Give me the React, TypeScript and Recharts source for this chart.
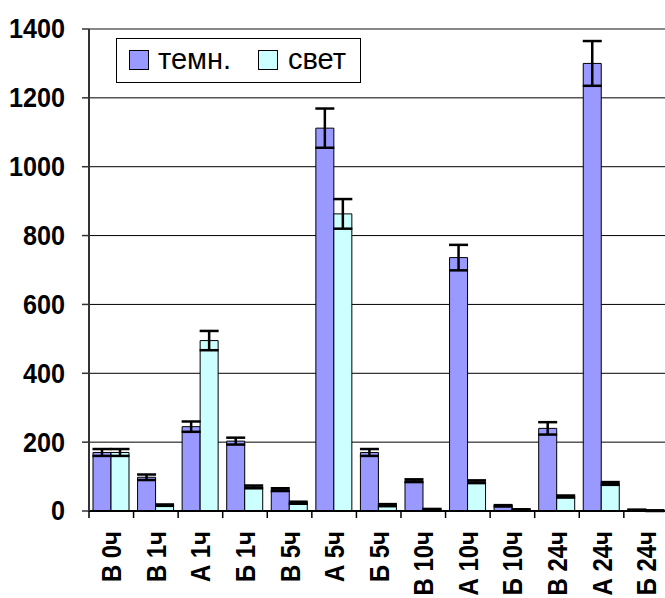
import React from 'react';
import {
  BarChart,
  Bar,
  XAxis,
  YAxis,
  CartesianGrid,
  ErrorBar,
  Legend,
  ReferenceLine,
} from 'recharts';

const categories = ['В 0ч', 'В 1ч', 'А 1ч', 'Б 1ч', 'В 5ч', 'А 5ч', 'Б 5ч', 'В 10ч', 'А 10ч', 'Б 10ч', 'В 24ч', 'А 24ч', 'Б 24ч'];
const darkValues = [170, 98, 245, 203, 62, 1112, 170, 88, 736, 15, 240, 1300, 3];
const darkErrors = [10, 8, 15, 10, 4, 57, 10, 4, 37, 2, 18, 65, 1];
const lightValues = [170, 17, 495, 70, 24, 863, 17, 5, 85, 4, 42, 80, 1];
const lightErrors = [10, 2, 28, 4, 3, 43, 3, 1, 4, 1, 3, 4, 1];
const yTicks = [0, 200, 400, 600, 800, 1000, 1200, 1400];
const seriesNames = ['темн.', 'свет'];

const data = categories.map((name, i) => ({
  name,
  dark: darkValues[i],
  darkErr: darkErrors[i],
  light: lightValues[i],
  lightErr: lightErrors[i],
}));

const CHART_W = 680;
const CHART_H = 598;
const Y_AXIS_W = 89;
const MARGIN = { top: 29, right: 11.6, bottom: 0, left: 0 };
const PLOT_W = CHART_W - Y_AXIS_W - MARGIN.left - MARGIN.right;
const BAND = PLOT_W / categories.length;
const FONT = '"Liberation Sans", Arial, sans-serif';
const SQUEEZE = 0.9;

// Bold value labels, slightly condensed along the text direction.
const ValueTick = (props: any) => {
  const { x, y, payload } = props;
  return (
    <text
      transform={`translate(${x},${y}) scale(${SQUEEZE},1)`}
      textAnchor="end"
      dominantBaseline="central"
      fontFamily={FONT}
      fontWeight="bold"
      fontSize={28}
      fill="#000"
    >
      {payload.value}
    </text>
  );
};

// Category label rotated to read upward, with a tick mark on the left edge of its band.
const CategoryTick = (props: any) => {
  const { x, y, payload, index } = props;
  const left = x - BAND / 2;
  return (
    <g>
      <line x1={left} y1={y} x2={left} y2={y + 7} stroke="#000" strokeWidth={1.5} />
      {index === categories.length - 1 && (
        <line x1={x + BAND / 2} y1={y} x2={x + BAND / 2} y2={y + 7} stroke="#000" strokeWidth={1.5} />
      )}
      <text
        transform={`translate(${x + 10},${y + 20}) rotate(-90) scale(${SQUEEZE * 0.95},1)`}
        textAnchor="end"
        fontFamily={FONT}
        fontWeight="bold"
        fontSize={28}
        fill="#000"
      >
        {payload.value}
      </text>
    </g>
  );
};

const LegendBox = (props: any) => {
  const items = [...(props.payload || [])].sort(
    (a: any, b: any) => seriesNames.indexOf(a.value) - seriesNames.indexOf(b.value)
  );
  const spots = [
    { sw: 12, tx: 41 },
    { sw: 141, tx: 171 },
  ];
  return (
    <div
      style={{
        position: 'relative',
        width: 243,
        height: 43,
        border: '1px solid #000',
        background: '#fff',
        fontFamily: FONT,
      }}
    >
      {items.map((it: any, i: number) => (
        <React.Fragment key={it.value}>
          <div
            style={{
              position: 'absolute',
              left: spots[i].sw,
              top: 11,
              width: 18,
              height: 18,
              border: '1px solid #000',
              background: it.color,
            }}
          />
          <div
            style={{
              position: 'absolute',
              left: spots[i].tx,
              top: 0,
              lineHeight: '40px',
              fontSize: 29,
              color: '#000',
              whiteSpace: 'nowrap',
            }}
          >
            {it.value}
          </div>
        </React.Fragment>
      ))}
    </div>
  );
};

export default function App() {
  return (
    <div
      style={{
        position: 'absolute',
        left: 0,
        top: 0,
        width: 665,
        height: 598,
        overflow: 'hidden',
        background: '#fff',
      }}
    >
      <BarChart width={CHART_W} height={CHART_H} data={data} margin={MARGIN} barGap={0}>
        <CartesianGrid vertical={false} stroke="#000" strokeWidth={1} />
        <ReferenceLine y={1400} stroke="#888" strokeWidth={2} />
        <XAxis
          dataKey="name"
          interval={0}
          height={87}
          tickSize={0}
          tickMargin={0}
          tickLine={false}
          axisLine={{ stroke: '#000', strokeWidth: 2 }}
          tick={<CategoryTick />}
        />
        <YAxis
          domain={[0, 1400]}
          ticks={yTicks}
          interval={0}
          width={Y_AXIS_W}
          tickSize={7}
          tickMargin={17}
          axisLine={{ stroke: '#333', strokeWidth: 2 }}
          tickLine={{ stroke: '#333', strokeWidth: 1.5 }}
          tick={<ValueTick />}
        />
        <Legend
          layout="horizontal"
          verticalAlign="middle"
          align="center"
          content={<LegendBox />}
          wrapperStyle={{ position: 'absolute', left: 116, top: 38, width: 'auto', height: 'auto' }}
        />
        <Bar dataKey="dark" name={seriesNames[0]} fill="#9999FF" stroke="#000" strokeWidth={1} barSize={18} isAnimationActive={false}>
          <ErrorBar dataKey="darkErr" width={9.5} strokeWidth={2.5} stroke="#000" isAnimationActive={false} />
        </Bar>
        <Bar dataKey="light" name={seriesNames[1]} fill="#CCFFFF" stroke="#000" strokeWidth={1} barSize={18} isAnimationActive={false}>
          <ErrorBar dataKey="lightErr" width={9.5} strokeWidth={2.5} stroke="#000" isAnimationActive={false} />
        </Bar>
      </BarChart>
    </div>
  );
}
